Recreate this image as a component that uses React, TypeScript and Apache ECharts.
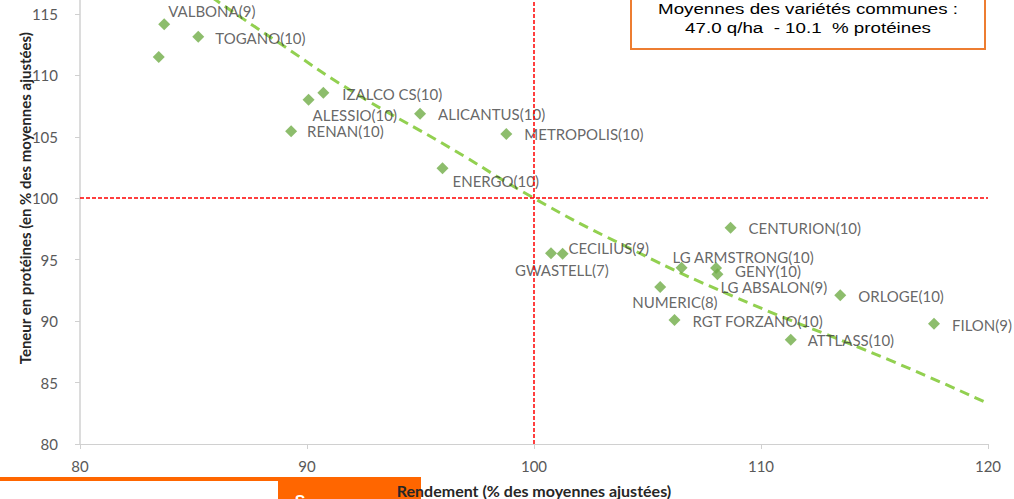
import React, { useEffect, useRef } from "react";
import * as echarts from "echarts";

const varieties = [
  "VALBONA(9)", "", "TOGANO(10)", "IZALCO CS(10)", "ALESSIO(10)", "RENAN(10)",
  "ALICANTUS(10)", "METROPOLIS(10)", "ENERGO(10)", "CENTURION(10)", "CECILIUS(9)",
  "GWASTELL(7)", "LG ARMSTRONG(10)", "GENY(10)", "LG ABSALON(9)", "NUMERIC(8)",
  "ORLOGE(10)", "RGT FORZANO(10)", "ATTLASS(10)", "FILON(9)",
];
const rendement = [
  83.71, 83.47, 85.21, 90.72, 90.07, 89.3,
  94.98, 98.78, 95.97, 108.66, 101.26,
  100.75, 106.5, 108.02, 108.08, 105.56,
  113.49, 106.19, 111.31, 117.62,
];
const proteines = [
  114.15, 111.49, 113.14, 108.58, 108.02, 105.44,
  106.88, 105.22, 102.43, 97.6, 95.49,
  95.52, 94.35, 94.32, 93.81, 92.77,
  92.1, 90.09, 88.49, 89.79,
];
// label offset from marker centre (left edge of text, vertical middle)
const labelOffsets: [number, number][] = [
  [4, -13], [0, 0], [17, 1], [19, 1], [4, 15], [16, 0],
  [18, 0], [18, 0], [10, 13], [18, 0], [6, -6],
  [-36, 17], [-9, -11], [19, 3], [3, 13], [-28, 15],
  [18, 1], [18, 1], [17, 0], [18, 1],
];
const trendX = [83.5, 86.0, 88.8, 91.9, 96.3, 100.0, 103.8, 108.8, 115.7, 120.0];
const trendY = [119.4, 116.1, 112.6, 108.8, 104.1, 100.0, 96.3, 92.0, 86.8, 83.3];
const xTicks = [80, 120, 10];
const yTicks = [80, 120, 5];
const refX = 100;
const refY = 100;
const boxLines = ["Moyennes des variétés communes :", "47.0 q/ha  - 10.1  % protéines"];

// the chart is cropped at its top: the div is shifted up by SHIFT px
const SHIFT = 48;

export default function App() {
  const ref = useRef<HTMLDivElement>(null);
  useEffect(() => {
    if (!ref.current) return;
    const chart = echarts.init(ref.current, undefined, { renderer: "svg" });
    const SYM = 12;
    const points = varieties.map((name, i) => ({
      name,
      value: [rendement[i], proteines[i]],
      label: {
        show: name !== "",
        position: "right",
        distance: 0,
        offset: [labelOffsets[i][0] - SYM / 2, labelOffsets[i][1]],
      },
    }));
    chart.setOption({
      animation: false,
      backgroundColor: "#ffffff",
      textStyle: { fontFamily: "Lato" },
      grid: { left: 80, right: 26, top: 0.4, bottom: 55, containLabel: false, outerBoundsMode: "none" },
      xAxis: {
        type: "value",
        min: xTicks[0],
        max: xTicks[1],
        interval: xTicks[2],
        name: "Rendement (% des moyennes ajustées)",
        nameLocation: "middle",
        nameGap: 38,
        nameTextStyle: { fontFamily: "Lato", fontWeight: "bold", fontSize: 16, color: "#262626", verticalAlign: "top" },
        axisLine: { show: true, lineStyle: { color: "#d0d0d0", width: 1 } },
        axisTick: { show: true, length: 5, lineStyle: { color: "#d0d0d0" } },
        axisLabel: { color: "#595959", fontSize: 15, fontFamily: "Lato", margin: 14 },
        splitLine: { show: false },
      },
      yAxis: {
        type: "value",
        min: yTicks[0],
        max: yTicks[1],
        interval: yTicks[2],
        name: "Teneur en protéines (en % des moyennes ajustées)",
        nameLocation: "middle",
        nameGap: 48,
        nameMoveOverlap: false,
        nameTextStyle: { fontFamily: "Lato", fontWeight: "bold", fontSize: 15, color: "#262626" },
        axisLine: { show: true, lineStyle: { color: "#d0d0d0", width: 1.5 } },
        axisTick: { show: true, length: 5, lineStyle: { color: "#d0d0d0" } },
        axisLabel: { color: "#595959", fontSize: 15, fontFamily: "Lato", margin: 22 },
        splitLine: { show: false },
      },
      series: [
        {
          type: "line",
          data: trendX.map((x, i) => [x, trendY[i]]),
          smooth: true,
          symbol: "none",
          lineStyle: { color: "#92D050", width: 3, type: [10, 6] },
          z: 3,
          silent: true,
        },
        {
          type: "scatter",
          symbol: "diamond",
          symbolSize: SYM,
          itemStyle: { color: "#70AD47" },
          data: points,
          label: {
            color: "#404040",
            fontSize: 15,
            fontFamily: "Lato",
            formatter: (p: any) => p.name,
          },
          z: 4,
          markLine: {
            silent: true,
            symbol: ["none", "none"],
            label: { show: false },
            lineStyle: { color: "#ff0000", type: [4, 2], width: 1.5 },
            data: [{ xAxis: refX }, { yAxis: refY }],
          },
        },
      ],
      graphic: [
        {
          type: "rect",
          shape: { x: 631, y: SHIFT - 10, width: 354, height: 59 },
          style: { fill: "#ffffff", stroke: "#ED7D31", lineWidth: 2 },
          z: 10,
        },
        {
          type: "text",
          x: 808,
          y: SHIFT + 9,
          scaleX: 1.25,
          style: { text: boxLines[0], font: "15px 'Liberation Sans'", fill: "#000000", textAlign: "center", textVerticalAlign: "middle" },
          z: 11,
        },
        {
          type: "text",
          x: 808,
          y: SHIFT + 28,
          scaleX: 1.25,
          style: { text: boxLines[1], font: "15px 'Liberation Sans'", fill: "#000000", textAlign: "center", textVerticalAlign: "middle" },
          z: 11,
        },
        {
          type: "rect",
          shape: { x: 0, y: SHIFT + 477, width: 278, height: 4 },
          style: { fill: "#FF6600" },
          z: -10,
        },
        {
          type: "rect",
          shape: { x: 278, y: SHIFT + 477, width: 143, height: 22 },
          style: { fill: "#FF6600" },
          z: -10,
        },
        {
          type: "text",
          x: 300,
          y: SHIFT + 493,
          style: { text: "S", font: "bold 16px 'Liberation Sans'", fill: "#ffffff", textAlign: "center", textVerticalAlign: "top" },
          z: -9,
        },
      ],
    });
    return () => chart.dispose();
  }, []);
  return (
    <div
      ref={ref}
      style={{ position: "fixed", left: 0, top: -SHIFT, width: 1014, height: 499 + SHIFT }}
    />
  );
}
